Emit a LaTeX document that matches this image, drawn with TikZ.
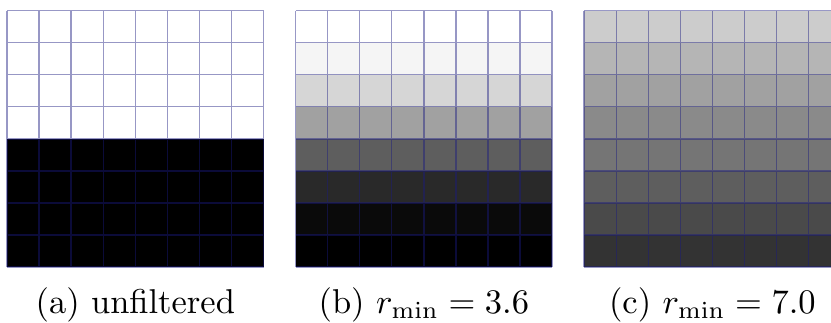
\documentclass[tikz,border=0pt]{standalone}
\usepackage{amsmath}
\definecolor{gridblue}{HTML}{1A1A80}

\begin{document}
\begin{tikzpicture}[x=9.3pt,y=9.3pt]
  % Layout: three 8x8 panels of unit cells, side by side, one panel every
  % \gap units. Each row is filled with a grey given as percent black,
  % listed from the top row down.
  \def\N{8}
  \def\gap{9}
  \tikzset{cellline/.style={draw=gridblue, draw opacity=0.45, line width=0.4pt}}
  \clip (-0.22,-1.72) rectangle (25.70,8.33);

  % ---------- panels: row fills + cell grid ----------
  \foreach \panel/\shades in {0/{0,0,0,0,100,100,100,100},
                              1/{0,4,16,37,63,84,96,100},
                              2/{20,29,37,46,54,63,71,80}} {
    \foreach \k [count=\row from 1] in \shades {
      \fill[black!\k] (\panel*\gap,\N-\row) rectangle ++(\N,1);
    }
    \draw[cellline, step=1] (\panel*\gap,0) grid ++(\N,\N);
  }

  % ---------- captions ----------
  \node[anchor=base] (capA) at (\N/2,-1.45) {(a) unfiltered};
  \node[anchor=base] (capB) at (\gap+\N/2,-1.45) {(b) $r_{\min} = 3.6$};
  \node[anchor=base] (capC) at (2*\gap+\N/2,-1.45) {(c) $r_{\min} = 7.0$};
\end{tikzpicture}
\end{document}
